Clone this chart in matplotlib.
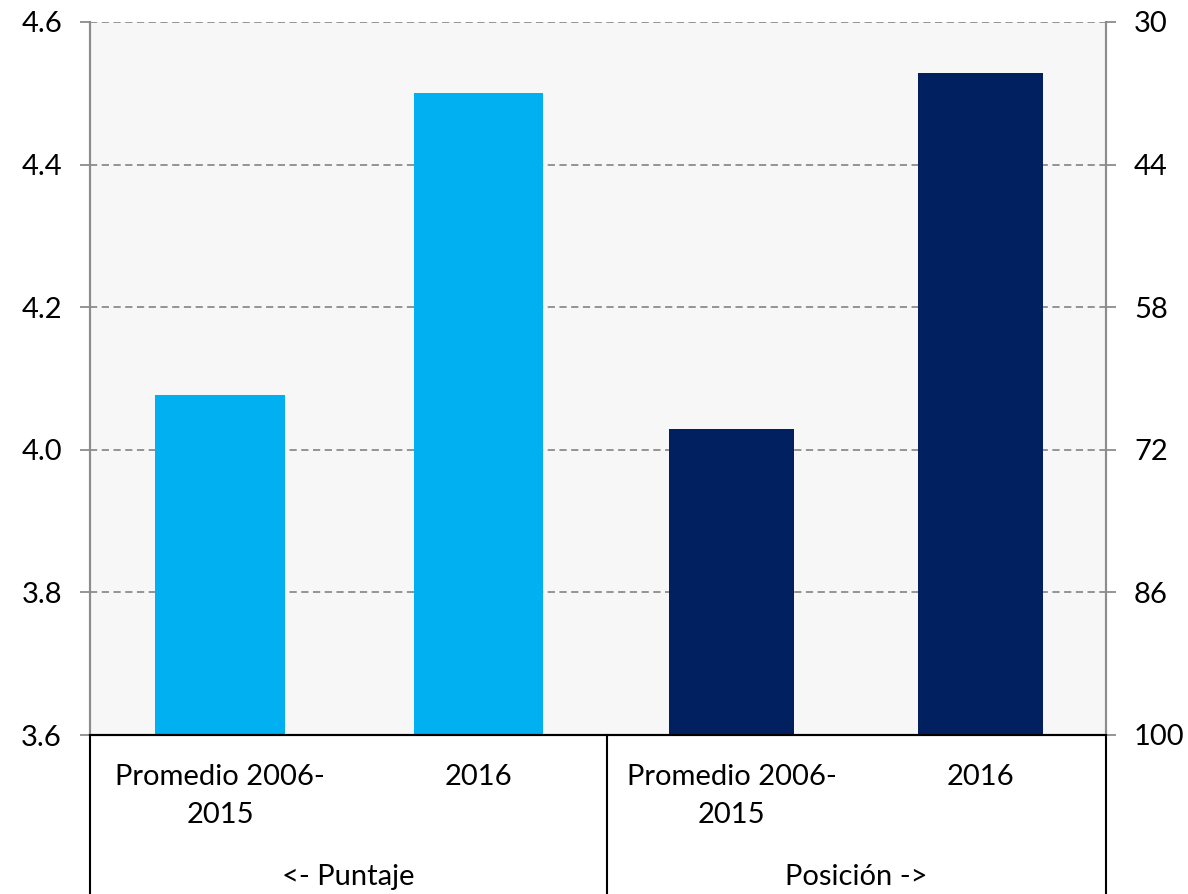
import matplotlib
matplotlib.use("Agg")
import matplotlib.pyplot as plt
from matplotlib.transforms import blended_transform_factory
from matplotlib.lines import Line2D

plt.rcParams['font.family'] = ['Lato', 'DejaVu Sans']

# Data
categories = ["Promedio 2006-\n2015", "2016", "Promedio 2006-\n2015", "2016"]
groups = ["<- Puntaje", "Posición ->"]
puntaje = [4.077, 4.50]
posicion = [70.0, 35.0]
left_ticks = [3.6, 3.8, 4.0, 4.2, 4.4, 4.6]
right_ticks = [30, 44, 58, 72, 86, 100]

c_light = "#00B0F0"
c_dark = "#002060"
grid_c = "#8C8C8C"

W, H = 1188, 894
fig = plt.figure(figsize=(W / 100, H / 100), dpi=100)
L, R, T, B = 90, 1106, 22, 735
AH = B - T
ax = fig.add_axes([L / W, 1 - B / H, (R - L) / W, AH / H])
ax.set_facecolor("#F7F7F7")

# x positions (pixel-matched)
def px2x(px):
    return (px - L) / (R - L) * 4.0

xs = [px2x(220), px2x(478.5), px2x(731.5), px2x(980.5)]
widths = [130 / (R - L) * 4, 129 / (R - L) * 4, 125 / (R - L) * 4, 125 / (R - L) * 4]
divider = px2x(607)

ax.set_xlim(0, 4)
ax.set_ylim(3.6, 4.6)
ax.set_yticks(left_ticks)
ax.set_yticklabels([f"{t:.1f}" for t in left_ticks])
for t in left_ticks:
    ax.axhline(t, color=grid_c, lw=1.3, ls=(0, (4, 2.5)), zorder=0.5)

ax.bar(xs[:2], [v - 3.6 for v in puntaje], bottom=3.6, width=widths[:2],
       color=c_light, zorder=2)

ax2 = ax.twinx()
ax2.set_ylim(100, 30)
ax2.set_yticks(right_ticks)
ax2.set_yticklabels([str(t) for t in right_ticks])
ax2.bar(xs[2:], [v - 100 for v in posicion], bottom=100, width=widths[2:],
        color=c_dark, zorder=2)

for a in (ax, ax2):
    a.set_xticks([])
    a.spines['top'].set_visible(False)
    a.spines['left'].set_color(grid_c)
    a.spines['right'].set_color(grid_c)
    a.spines['left'].set_linewidth(1.5)
    a.spines['right'].set_linewidth(1.5)
    a.spines['bottom'].set_color("black")
    a.spines['bottom'].set_linewidth(1.5)
    a.tick_params(axis='y', length=7.2, width=1.3, color=grid_c,
                  labelsize=21, pad=13, labelcolor="black")

# Category labels area
trans = blended_transform_factory(ax.transData, ax.transAxes)
fs = 21
for x, lab in zip(xs, categories):
    for i, line in enumerate(lab.split("\n")):
        ax.text(x, -(50 + 38 * i) / AH, line, transform=trans, ha='center',
                va='baseline', fontsize=fs)

g_centers = [divider / 2, (divider + 4) / 2]
for x, g in zip(g_centers, groups):
    ax.text(x, -150 / AH, g, transform=trans, ha='center', va='baseline',
            fontsize=fs)

for x in [0, divider, 4]:
    ax.add_line(Line2D([x, x], [0, -0.3], transform=trans, color='black',
                       lw=1.5, clip_on=False))

fig.savefig("out.png", dpi=100, facecolor="white")
